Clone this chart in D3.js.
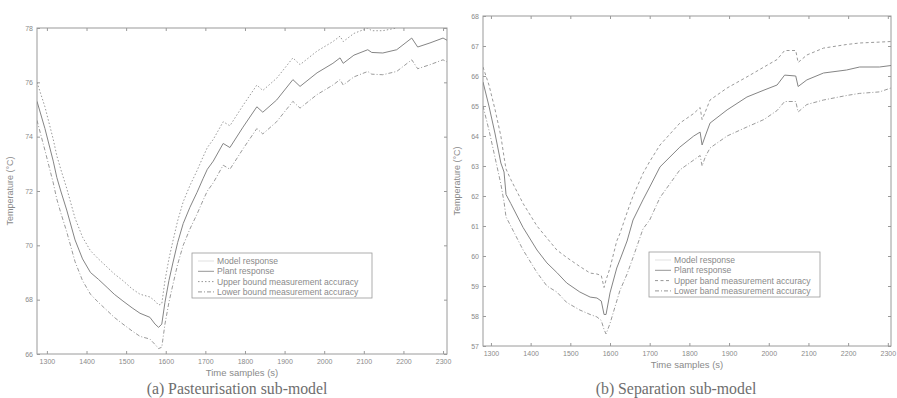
<!DOCTYPE html>
<html>
<head>
<meta charset="utf-8">
<script src="https://cdn.jsdelivr.net/npm/d3@7"></script>
<style>
  body { margin: 0; background: #fff; }
  svg { display: block; }
  .tick text { font-family: "Liberation Sans", Arial, sans-serif; font-size: 7px; fill: #8a8a8a; }
  .tick line { stroke: #9a9a9a; }
  .domain { display: none; }
</style>
</head>
<body>
<svg id="chart" width="897" height="398"></svg>
<script>
// Pasteurisation sub-model (left)
var timeA  = [1275,1295,1316,1325,1335,1350,1371,1390,1410,1430,1452,1470,1492,1515,1535,1560,1573,1582,1590,1598,1608,1618,1630,1644,1661,1679,1694,1705,1720,1745,1762,1795,1830,1845,1880,1921,1939,1982,2022,2040,2048,2075,2110,2120,2148,2183,2221,2236,2267,2300,2310];
var plantA = [75.3,74.3,73.1,72.5,72.0,71.3,70.2,69.5,69.0,68.75,68.45,68.2,67.95,67.7,67.5,67.35,67.1,66.98,67.1,67.9,68.7,69.35,70.1,70.8,71.4,71.95,72.45,72.8,73.1,73.75,73.6,74.35,75.1,74.9,75.35,76.1,75.85,76.35,76.7,76.9,76.7,77.0,77.2,77.1,77.08,77.2,77.63,77.3,77.45,77.63,77.55];
var upperA = [76.0,75.1,73.9,73.3,72.8,72.1,71.0,70.3,69.8,69.5,69.2,68.95,68.7,68.4,68.2,68.1,67.95,67.8,67.85,68.7,69.5,70.15,70.9,71.6,72.2,72.75,73.25,73.6,73.9,74.55,74.4,75.15,75.9,75.7,76.15,76.9,76.65,77.15,77.5,77.7,77.5,77.8,78.0,77.9,77.9,78.0,78.45,78.1,78.25,78.45,78.35];
var lowerA = [74.6,73.5,72.3,71.7,71.2,70.5,69.4,68.7,68.2,67.9,67.6,67.35,67.1,66.85,66.65,66.55,66.35,66.2,66.25,67.1,67.9,68.55,69.3,70.0,70.6,71.15,71.65,72.0,72.3,72.95,72.8,73.55,74.3,74.1,74.55,75.3,75.05,75.55,75.9,76.1,75.9,76.2,76.4,76.3,76.28,76.4,76.83,76.5,76.65,76.83,76.75];

// Separation sub-model (right)
var timeB  = [1280,1295,1310,1325,1333,1338,1350,1381,1416,1441,1466,1491,1524,1550,1567,1578,1585,1590,1600,1617,1625,1643,1658,1683,1700,1726,1776,1811,1827,1832,1840,1852,1895,1945,1988,2021,2040,2068,2074,2096,2138,2196,2229,2279,2308];
var plantB = [65.8,65.0,64.1,63.1,62.8,62.05,61.75,60.95,60.2,59.77,59.45,59.1,58.8,58.63,58.6,58.5,58.05,58.05,58.77,59.6,59.87,60.5,61.2,61.87,62.3,62.97,63.63,64.0,64.13,63.7,64.0,64.43,64.87,65.3,65.53,65.7,66.03,66.0,65.65,65.87,66.1,66.2,66.3,66.3,66.35];
var upperB = [66.3,65.7,64.9,64.0,63.3,62.9,62.55,61.75,61.0,60.6,60.2,59.95,59.65,59.43,59.4,59.35,58.95,59.2,59.6,60.5,60.75,61.45,62.0,62.75,63.15,63.7,64.43,64.75,64.95,64.55,64.8,65.2,65.6,65.97,66.3,66.55,66.85,66.85,66.45,66.7,66.93,67.05,67.1,67.13,67.15];
var lowerB = [65.0,64.2,63.3,62.4,61.8,61.3,61.0,60.2,59.45,59.0,58.8,58.45,58.2,58.05,57.97,57.85,57.55,57.4,57.75,58.5,58.85,59.4,59.95,60.9,61.2,61.95,62.87,63.2,63.35,63.0,63.3,63.6,64.0,64.3,64.55,64.85,65.15,65.15,64.8,65.05,65.2,65.35,65.42,65.47,65.6];

var xTicks = [1300,1400,1500,1600,1700,1800,1900,2000,2100,2200,2300];
var yTicksA = [66,68,70,72,74,76,78];
var yTicksB = [57,58,59,60,61,62,63,64,65,66,67,68];

var legendA = ['Model response','Plant response','Upper bound measurement accuracy','Lower bound measurement accuracy'];
var legendB = ['Model response','Plant response','Upper band measurement accuracy','Lower band measurement accuracy'];

var svg = d3.select('#chart');
var textCol = '#8a8a8a';
var lineCol = '#858585';

// dash styles: model, plant, upper, lower
var dashA = [null, null, '1.5,2', '4,2,1,2'];
var dashB = [null, null, '3,2.5', '4,2,1,2'];

function drawPanel(p) {
  var g = svg.append('g');
  var x = d3.scaleLinear().domain(p.xDomain).range([p.left, p.right]);
  var y = d3.scaleLinear().domain(p.yDomain).range([p.bottom, p.top]);

  // box
  g.append('rect')
    .attr('x', p.left).attr('y', p.top)
    .attr('width', p.right - p.left).attr('height', p.bottom - p.top)
    .attr('fill', 'none').attr('stroke', '#9a9a9a').attr('stroke-width', 1);

  // ticks inward on all four sides (MATLAB box)
  g.append('g').attr('transform', 'translate(0,' + p.bottom + ')')
    .call(d3.axisBottom(x).tickValues(xTicks).tickSize(-3).tickSizeOuter(0).tickPadding(5).tickFormat(d3.format('d')));
  g.append('g').attr('transform', 'translate(0,' + p.top + ')')
    .call(d3.axisTop(x).tickValues(xTicks).tickSize(-3).tickSizeOuter(0).tickFormat(''));
  g.append('g').attr('transform', 'translate(' + p.left + ',0)')
    .call(d3.axisLeft(y).tickValues(p.yTicks).tickSize(-3).tickSizeOuter(0).tickPadding(4).tickFormat(d3.format('d')));
  g.append('g').attr('transform', 'translate(' + p.right + ',0)')
    .call(d3.axisRight(y).tickValues(p.yTicks).tickSize(-3).tickSizeOuter(0).tickFormat(''));

  // clip
  var clipId = 'clip' + p.name;
  svg.append('clipPath').attr('id', clipId).append('rect')
    .attr('x', p.left).attr('y', p.top)
    .attr('width', p.right - p.left).attr('height', p.bottom - p.top);

  var series = [
    {vals: p.upper, dash: p.dash[2], col: '#8f8f8f', w: 0.9},
    {vals: p.lower, dash: p.dash[3], col: '#8f8f8f', w: 0.9},
    {vals: p.plant, dash: null, col: lineCol, w: 1}
  ];
  var line = d3.line()
    .x(function(d, i) { return x(p.time[i]); })
    .y(function(d) { return y(d); });
  g.append('g').attr('clip-path', 'url(#' + clipId + ')')
    .selectAll('path').data(series).enter().append('path')
      .attr('d', function(s) { return line(s.vals); })
      .attr('fill', 'none')
      .attr('stroke', function(s) { return s.col; })
      .attr('stroke-width', function(s) { return s.w; })
      .attr('stroke-dasharray', function(s) { return s.dash; });

  // axis labels
  g.append('text')
    .attr('x', (p.left + p.right) / 2).attr('y', p.bottom + 22)
    .attr('text-anchor', 'middle')
    .style('font-family', '"Liberation Sans", Arial, sans-serif').style('font-size', '9.5px').style('fill', textCol)
    .text('Time samples (s)');
  g.append('text')
    .attr('transform', 'translate(' + p.ylabelX + ',' + ((p.top + p.bottom) / 2) + ') rotate(-90)')
    .attr('text-anchor', 'middle')
    .style('font-family', '"Liberation Sans", Arial, sans-serif').style('font-size', '9px').style('fill', textCol)
    .text('Temperature (\u00B0C)');

  // caption
  g.append('text')
    .attr('x', p.captionX).attr('y', 394)
    .attr('text-anchor', 'middle')
    .style('font-family', '"Liberation Serif", "Times New Roman", serif').style('font-size', '15.8px').style('fill', '#6e6e6e')
    .text(p.caption);

  // legend
  var lg = g.append('g').attr('transform', 'translate(' + p.legX + ',' + p.legY + ')');
  lg.append('rect').attr('width', p.legW).attr('height', 45)
    .attr('fill', '#fff').attr('stroke', '#9a9a9a').attr('stroke-width', 0.8);
  var rows = lg.selectAll('g.row').data(p.legend).enter().append('g')
    .attr('class', 'row')
    .attr('transform', function(d, i) { return 'translate(0,' + (8 + i * 10.3) + ')'; });
  rows.append('line')
    .attr('x1', 6).attr('x2', 22).attr('y1', 0).attr('y2', 0)
    .attr('stroke', function(d, i) { return i === 0 ? '#dedede' : '#8a8a8a'; })
    .attr('stroke-width', 0.9)
    .attr('stroke-dasharray', function(d, i) { return p.dash[i]; });
  rows.append('text')
    .attr('x', 25).attr('y', 3)
    .style('font-family', '"Liberation Sans", Arial, sans-serif').style('font-size', '8.6px').style('fill', textCol)
    .text(function(d) { return d; });
}

drawPanel({
  name: 'A', time: timeA, plant: plantA, upper: upperA, lower: lowerA,
  xDomain: [1275, 2310], yDomain: [66, 78], yTicks: yTicksA,
  left: 37, right: 447, top: 28, bottom: 354,
  ylabelX: 13, captionX: 237, caption: '(a) Pasteurisation sub-model',
  legX: 192, legY: 253, legW: 180, legend: legendA, dash: dashA
});

drawPanel({
  name: 'B', time: timeB, plant: plantB, upper: upperB, lower: lowerB,
  xDomain: [1280, 2308], yDomain: [57, 68], yTicks: yTicksB,
  left: 483, right: 891, top: 16, bottom: 346,
  ylabelX: 460, captionX: 676, caption: '(b) Separation sub-model',
  legX: 649, legY: 252, legW: 171, legend: legendB, dash: dashB
});
</script>
</body>
</html>
